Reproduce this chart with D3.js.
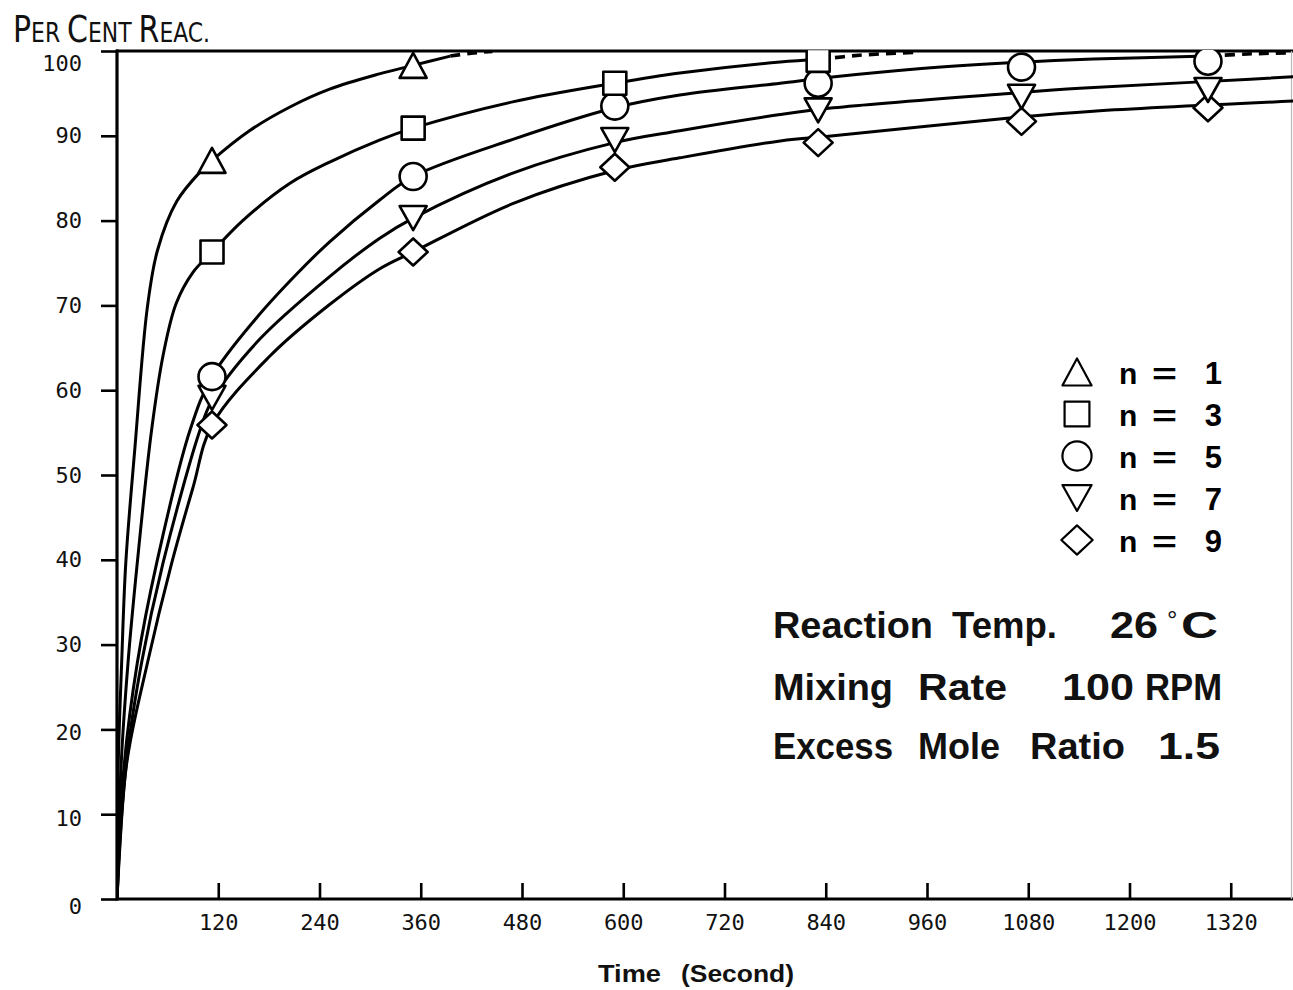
<!DOCTYPE html>
<html>
<head>
<meta charset="utf-8">
<script src="https://cdn.jsdelivr.net/npm/d3@7"></script>
<style>
  body { margin: 0; background: #fff; }
  svg { display: block; }
</style>
</head>
<body>
<svg id="chart" width="1293" height="990"></svg>
<script>
// ---------------- DATA ----------------
const xTickValues = [120, 240, 360, 480, 600, 720, 840, 960, 1080, 1200, 1320];
const yTickValues = [0, 10, 20, 30, 40, 50, 60, 70, 80, 90, 100];

const seriesNames = ["n = 1", "n = 3", "n = 5", "n = 7", "n = 9"];
const seriesNums  = ["1", "3", "5", "7", "9"];

// measurement times (s), as plotted
const sampleTimes = [112.6, 351, 590, 831, 1072, 1293];

// measured per cent reacted
const n1Values = [87.1, 98.3];
const n3Values = [76.3, 90.9, 96.2, 98.9];
const n5Values = [61.6, 85.2, 93.5, 96.2, 98.1, 98.8];
const n7Values = [59.1, 80.3, 89.5, 93.0, 94.6, 95.4];
const n9Values = [55.9, 76.3, 86.3, 89.2, 91.7, 93.3];

// fitted curves (solid part)
const n1CurveT = [0, 1.5, 5.5, 10.4, 21.3, 36, 48, 71, 100, 112.6, 157, 205, 252, 311, 351, 395];
const n1CurveV = [0, 16, 27.8, 39.6, 53.3, 69.8, 76.5, 82.3, 85.9, 87.1, 90.6, 93.4, 95.5, 97.3, 98.3, 99.4];
const n3CurveT = [0, 5, 13, 24, 41, 55, 70, 90, 112.6, 149, 205, 252, 311, 351, 469, 590, 667, 786, 831];
const n3CurveV = [0, 16, 27.8, 39.6, 55.3, 64.3, 70.2, 73.9, 76.3, 80.0, 84.4, 86.9, 89.5, 90.9, 94.0, 96.2, 97.4, 98.7, 99.0];
const n5CurveT = [0, 8.7, 24, 47, 86.6, 112.6, 166, 213, 252, 311, 351, 470, 590, 667, 786, 845, 950, 1058, 1157, 1293];
const n5CurveV = [0, 16, 27.8, 39.6, 55.3, 61.6, 68.6, 73.7, 77.5, 82.4, 85.2, 89.6, 93.3, 94.8, 96.2, 96.9, 97.9, 98.6, 99.05, 99.4];
const n7CurveT = [0, 11, 29, 54.5, 98.4, 112.6, 169, 252, 311, 351, 469, 590, 667, 786, 849, 1058, 1141, 1272, 1440];
const n7CurveV = [0, 16, 27.8, 39.6, 55.3, 58.8, 66.0, 73.4, 77.9, 80.3, 85.6, 89.2, 90.6, 92.5, 93.3, 95.0, 95.6, 96.3, 97.2];
const n9CurveT = [0, 11.5, 36, 64.8, 90, 112.6, 181, 252, 311, 351, 469, 590, 667, 786, 849, 1058, 1157, 1440];
const n9CurveV = [0, 16, 27.8, 39.6, 48.5, 55.9, 64.0, 70.1, 74.3, 76.3, 82.0, 85.9, 87.4, 89.4, 90.0, 92.1, 92.9, 94.3];

// dashed continuations near 100 %
const n1DashT = [395, 420, 445];
const n1DashV = [99.4, 99.75, 99.95];
const n3DashT = [831, 880, 948];
const n3DashV = [99.0, 99.5, 99.85];
const n5DashT = [1293, 1340, 1440];
const n5DashV = [99.4, 99.65, 99.9];

const infoLines = [
  ["Reaction", "Temp.", "26", "°", "C"],
  ["Mixing", "Rate", "100", "RPM"],
  ["Excess", "Mole", "Ratio", "1.5"]
];
const yTitleParts = [["P", "big"], ["ER", "small"], [" ", "small"], ["C", "big"], ["ENT", "small"], [" ", "small"], ["R", "big"], ["EAC.", "small"]];
const xTitle = ["Time", "(Second)"];

// ---------------- CHART ----------------
const svg = d3.select("#chart");
const x = d3.scaleLinear().domain([0, 1440]).range([117, 1332]);
const y = d3.scaleLinear().domain([0, 100]).range([899, 51]);

const zip = (a, b) => a.map((t, i) => [t, b[i]]);
const series = [
  { shape: "triUp",   vals: n1Values, curve: zip(n1CurveT, n1CurveV), dash: zip(n1DashT, n1DashV) },
  { shape: "square",  vals: n3Values, curve: zip(n3CurveT, n3CurveV), dash: zip(n3DashT, n3DashV) },
  { shape: "circle",  vals: n5Values, curve: zip(n5CurveT, n5CurveV), dash: zip(n5DashT, n5DashV) },
  { shape: "triDown", vals: n7Values, curve: zip(n7CurveT, n7CurveV), dash: null },
  { shape: "diamond", vals: n9Values, curve: zip(n9CurveT, n9CurveV), dash: null }
];

function shapePath(shape, s) {
  switch (shape) {
    case "triUp":   { const w = 27 * s, h = 25 * s; return `M0,${-h/2}L${w/2},${h/2}L${-w/2},${h/2}Z`; }
    case "triDown": { const w = 27 * s, h = 24 * s; return `M0,${h/2}L${w/2},${-h/2}L${-w/2},${-h/2}Z`; }
    case "square":  { const a = 23 * s / 2; return `M${-a},${-a}H${a}V${a}H${-a}Z`; }
    case "circle":  { const r = 13.5 * s; return `M${r},0A${r},${r} 0 1 1 ${-r},0A${r},${r} 0 1 1 ${r},0Z`; }
    case "diamond": { const w = 29 * s / 2, h = 27 * s / 2; return `M0,${-h}L${w},0L0,${h}L${-w},0Z`; }
  }
}

svg.append("defs").append("clipPath").attr("id", "plotClip")
  .append("rect").attr("x", 117).attr("y", 50).attr("width", 1293 - 117).attr("height", 850);

// axes
const mono = "'DejaVu Sans Mono', 'Liberation Mono', monospace";
const yOffsets = { 100: 19, 0: 14, 10: 11, 20: 10 };
const gy = svg.append("g").attr("transform", "translate(117,0)")
  .call(d3.axisLeft(y).tickValues(yTickValues).tickSize(16).tickPadding(19).tickFormat(d3.format("d")));
gy.select(".domain").remove();
gy.selectAll(".tick line").attr("stroke", "#000").attr("stroke-width", 2.6);
gy.selectAll(".tick text").attr("font-family", mono).attr("font-size", 22).attr("fill", "#111")
  .attr("dy", null).attr("y", d => (yOffsets[d] !== undefined ? yOffsets[d] : 7));

const gx = svg.append("g").attr("transform", "translate(0,899)")
  .call(d3.axisBottom(x).tickValues(xTickValues).tickSizeInner(-16).tickSizeOuter(0).tickPadding(15).tickFormat(d3.format("d")));
gx.select(".domain").remove();
gx.selectAll(".tick line").attr("stroke", "#000").attr("stroke-width", 2.6);
gx.selectAll(".tick text").attr("font-family", mono).attr("font-size", 22).attr("fill", "#111");

// frame
const frame = svg.append("g").attr("stroke", "#000").attr("stroke-width", 3.2).attr("fill", "none");
frame.append("line").attr("x1", 117).attr("x2", 117).attr("y1", y(100) - 1.5).attr("y2", y(0) + 1.5);
frame.append("line").attr("x1", 116).attr("x2", 1293).attr("y1", y(100)).attr("y2", y(100));
frame.append("line").attr("x1", 116).attr("x2", 1293).attr("y1", y(0)).attr("y2", y(0));
svg.append("line").attr("x1", 1291.5).attr("x2", 1291.5).attr("y1", y(100)).attr("y2", y(0))
  .attr("stroke", "#b8b8b8").attr("stroke-width", 1.2);

// curves
const line = d3.line().x(d => x(d[0])).y(d => y(d[1])).curve(d3.curveCatmullRom.alpha(0.5));
const plot = svg.append("g").attr("clip-path", "url(#plotClip)");
series.forEach(s => {
  plot.append("path").attr("d", line(s.curve)).attr("fill", "none")
    .attr("stroke", "#000").attr("stroke-width", 3).attr("stroke-linejoin", "round");
  if (s.dash) {
    plot.append("path").attr("d", line(s.dash)).attr("fill", "none")
      .attr("stroke", "#000").attr("stroke-width", 3.6).attr("stroke-dasharray", "10,7");
  }
});

// markers (bottom to top: n=9, 7, 5, 3, 1)
series.slice().reverse().forEach(s => {
  plot.selectAll(null).data(s.vals.map((v, i) => [sampleTimes[i], v])).enter()
    .append("path")
    .attr("transform", d => `translate(${x(d[0])},${y(d[1])})`)
    .attr("d", shapePath(s.shape, 1))
    .attr("fill", "#fff").attr("stroke", "#000").attr("stroke-width", 2.6)
    .attr("stroke-linejoin", "round");
});

// legend
const sans = "'Liberation Sans', Arial, Helvetica, sans-serif";
const legend = svg.append("g");
series.forEach((s, i) => {
  const cy = 372 + i * 42;
  legend.append("path").attr("transform", `translate(1077,${cy})`)
    .attr("d", shapePath(s.shape, 1.08)).attr("fill", "#fff").attr("stroke", "#000")
    .attr("stroke-width", 2.2).attr("stroke-linejoin", "round");
  legend.append("text").attr("x", 1119).attr("y", cy + 12).text(seriesNames[i].split(" ")[0])
    .attr("font-family", sans).attr("font-weight", "bold").attr("font-size", 30);
  legend.append("text").attr("x", 1152).attr("y", cy + 12).text("=")
    .attr("textLength", 25).attr("lengthAdjust", "spacingAndGlyphs")
    .attr("font-family", sans).attr("font-weight", "bold").attr("font-size", 30);
  legend.append("text").attr("x", 1222).attr("y", cy + 12).attr("text-anchor", "end").text(seriesNums[i])
    .attr("font-family", sans).attr("font-weight", "bold").attr("font-size", 31);
});

// info text block
const infoX = [[773, 952, 1110, 1167, 1181], [773, 918, 1062, 1145], [773, 918, 1030, 1158]];
const infoW = [[160, 105, 48, 0, 37], [120, 89, 72, 77], [120, 82, 95, 62]];
const infoBase = [638, 700, 759];
infoLines.forEach((words, r) => {
  words.forEach((w, c) => {
    const t = svg.append("text").attr("x", infoX[r][c]).attr("y", infoBase[r]).text(w)
      .attr("font-family", sans).attr("font-weight", "bold").attr("font-size", 36).attr("fill", "#111");
    if (w === "°") {
      t.attr("font-size", 26).attr("font-weight", "normal").attr("y", infoBase[r] - 9);
    } else {
      t.attr("textLength", infoW[r][c]).attr("lengthAdjust", "spacingAndGlyphs");
    }
  });
});

// y title (small caps, hand lettered style)
const yt = svg.append("text").attr("x", 13).attr("y", 42)
  .attr("font-family", "'Liberation Sans Narrow', 'DejaVu Sans Condensed', 'Liberation Sans', sans-serif")
  .attr("fill", "#111").attr("textLength", 197).attr("lengthAdjust", "spacingAndGlyphs");
yTitleParts.forEach(p => {
  yt.append("tspan").attr("font-size", p[1] === "big" ? 37 : 27).text(p[0]);
});

// x title
svg.append("text").attr("x", 598).attr("y", 982).text(xTitle[0])
  .attr("textLength", 63).attr("lengthAdjust", "spacingAndGlyphs")
  .attr("font-family", sans).attr("font-weight", "bold").attr("font-size", 24).attr("fill", "#111");
svg.append("text").attr("x", 681).attr("y", 982).text(xTitle[1])
  .attr("textLength", 113).attr("lengthAdjust", "spacingAndGlyphs")
  .attr("font-family", sans).attr("font-weight", "bold").attr("font-size", 24).attr("fill", "#111");
</script>
</body>
</html>
